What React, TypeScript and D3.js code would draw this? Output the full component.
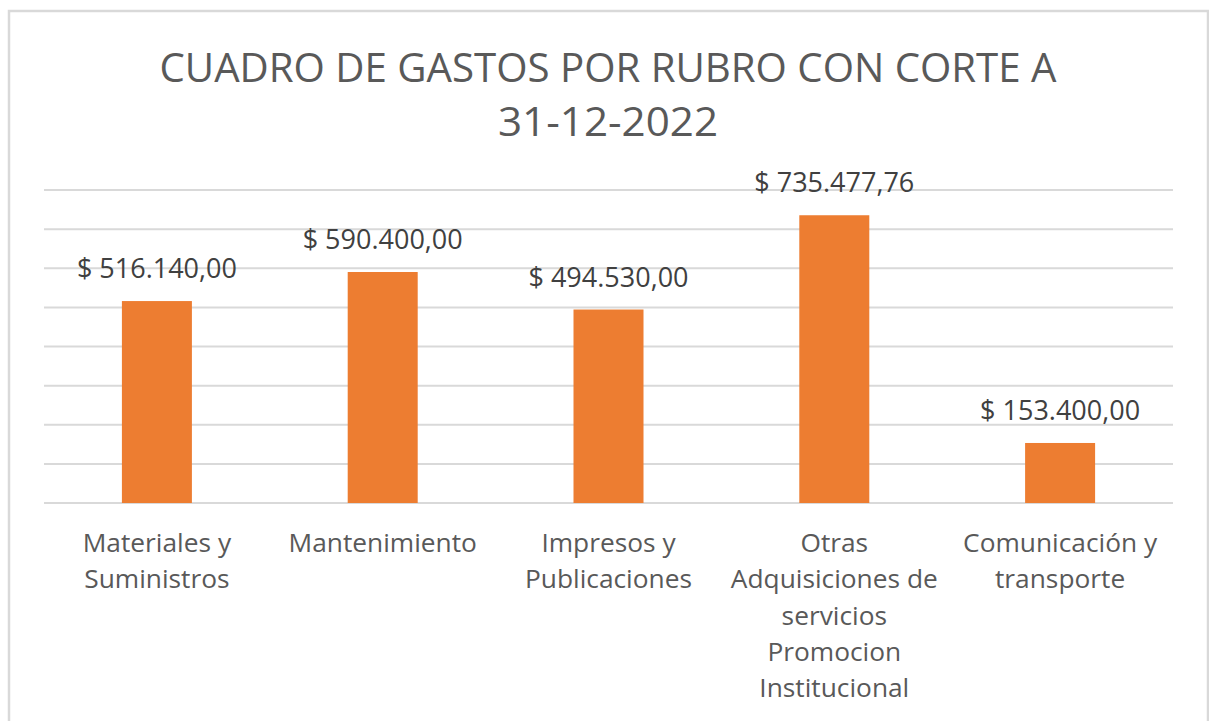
import React from "react";
import * as d3 from "d3";

const categories = [
  "Materiales y Suministros",
  "Mantenimiento",
  "Impresos y Publicaciones",
  "Otras Adquisiciones de servicios Promocion Institucional",
  "Comunicación y transporte",
];
const categoryLines = [
  ["Materiales y", "Suministros"],
  ["Mantenimiento"],
  ["Impresos y", "Publicaciones"],
  ["Otras", "Adquisiciones de", "servicios", "Promocion", "Institucional"],
  ["Comunicación y", "transporte"],
];
const values = [516140.0, 590400.0, 494530.0, 735477.76, 153400.0];
const valueLabels = ["$ 516.140,00", "$ 590.400,00", "$ 494.530,00", "$ 735.477,76", "$ 153.400,00"];
const gridTicks = [0, 100000, 200000, 300000, 400000, 500000, 600000, 700000, 800000];
const titleLines = ["CUADRO DE GASTOS POR RUBRO CON CORTE A", "31-12-2022"];

const W = 1209;
const H = 721;
const FONT = "'Open Sans', 'Noto Sans', sans-serif";

export default function App() {
  const plotLeft = 44;
  const plotRight = 1173;
  const plotTop = 190;
  const plotBottom = 503;

  const x = d3.scaleBand<string>().domain(categories).range([plotLeft, plotRight]).padding(0);
  const y = d3.scaleLinear().domain([0, 800000]).range([plotBottom, plotTop]);
  const barW = x.bandwidth() * 0.31;

  return (
    <svg
      width={W}
      height={H}
      style={{ position: "absolute", left: 0, top: 0, display: "block", background: "#fff" }}
      fontFamily={FONT}
    >
      <rect x={0} y={0} width={W} height={H} fill="#fff" />
      <rect x={9} y={11} width={1199} height={740} fill="#fff" stroke="#d9d9d9" strokeWidth={2.5} />

      <text x={608} y={82} textAnchor="middle" fontSize={40} fill="#595959" textLength={897} lengthAdjust="spacingAndGlyphs">
        {titleLines[0]}
      </text>
      <text x={608} y={136} textAnchor="middle" fontSize={40} fill="#595959" textLength={220} lengthAdjust="spacingAndGlyphs">
        {titleLines[1]}
      </text>

      {gridTicks.map((t) => (
        <line key={t} x1={plotLeft} x2={plotRight} y1={y(t)} y2={y(t)} stroke="#d9d9d9" strokeWidth={2} />
      ))}

      {categories.map((c, i) => {
        const cx = (x(c) as number) + x.bandwidth() / 2;
        return (
          <g key={c}>
            <rect x={cx - barW / 2} y={y(values[i])} width={barW} height={plotBottom - y(values[i])} fill="#ED7D31" />
            <text x={cx} y={y(values[i]) - 23} textAnchor="middle" fontSize={27} fill="#404040">
              {valueLabels[i]}
            </text>
            {categoryLines[i].map((ln, j) => (
              <text key={j} x={cx} y={552 + j * 36.3} textAnchor="middle" fontSize={26.3} fill="#595959">
                {ln}
              </text>
            ))}
          </g>
        );
      })}
    </svg>
  );
}
